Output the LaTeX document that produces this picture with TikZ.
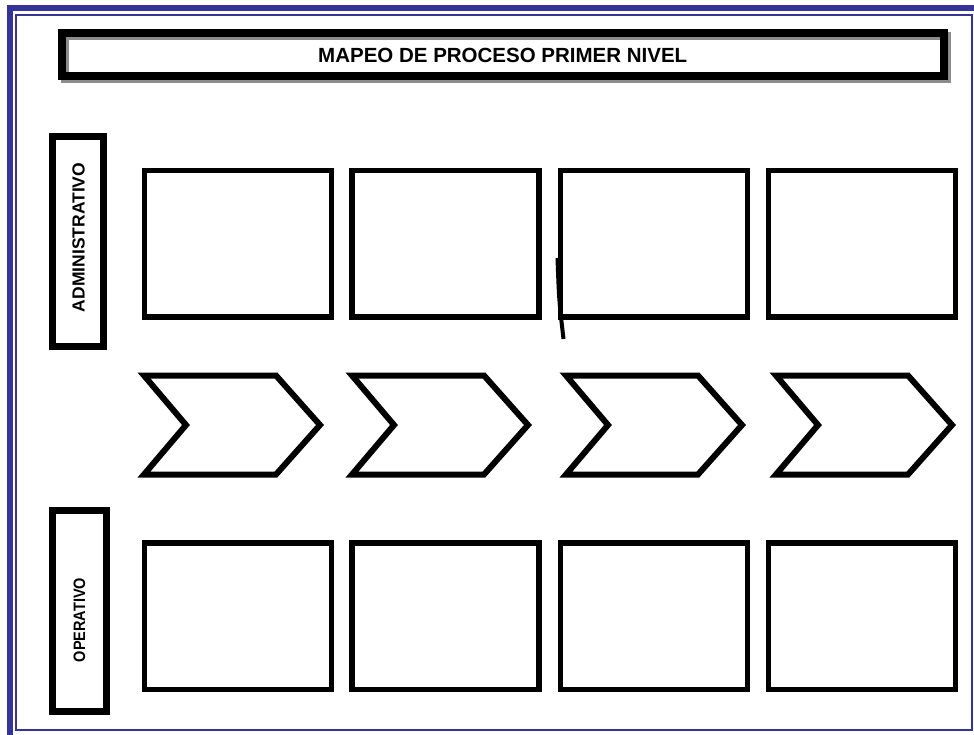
\documentclass[tikz,border=0pt]{standalone}
\usepackage{fontspec}
\setmainfont{Liberation Sans}
\usetikzlibrary{positioning}
\definecolor{marcoazul}{RGB}{51,51,153}
\definecolor{sombra}{RGB}{140,140,140}

\tikzset{
  procbox/.style={draw,line width=5.5pt,minimum width=187pt,minimum height=146.5pt,inner sep=0pt,outer sep=0pt},
  nivelbox/.style={draw,line width=7pt,inner sep=0pt,outer sep=0pt,rotate=90,font=\bfseries},
  chevron/.style={draw,line width=6pt,miter limit=20},
}

\begin{document}
\begin{tikzpicture}[x=1pt,y=-1pt]
    \useasboundingbox (0,0) rectangle (974,735);
    % marco doble
    \draw[marcoazul,line width=6pt] (10,8) rectangle (990,752);
    \draw[marcoazul,line width=2pt] (16,15) rectangle (972,730);
    % titulo con sombra
    \draw[sombra,line width=8pt] (64.5,36.5) rectangle (946.5,79.5);
    \node[draw,line width=8pt,minimum width=882pt,minimum height=43pt,inner sep=0pt] (titulo) at (502.75,55)
      {\bfseries\fontsize{20.5}{24}\selectfont MAPEO DE PROCESO PRIMER NIVEL};
    % niveles
    \node[nivelbox,minimum width=209pt,minimum height=50.5pt] (admin) at (77.75,241.5) {};
    \node[rotate=90,font=\bfseries\fontsize{17.5}{20}\selectfont] (admintxt) at (78.5,237.5) {ADMINISTRATIVO};
    \node[nivelbox,minimum width=201.5pt,minimum height=53.5pt] (oper) at (79.25,610.75) {};
    \node[rotate=90,font=\bfseries\fontsize{16.5}{20}\selectfont] (opertxt) at (79.5,620) {\scalebox{0.88}[1]{OPERATIVO}};
    % cajas de proceso
    \foreach \i/\x in {1/238.1,2/445.5,3/653.75,4/861.75}{
      \node[procbox] (adm\i) at (\x,243.75) {};
      \node[procbox] (ope\i) at (\x,616) {};
    }
    % flechas
    \foreach \x in {144,352,566,776}{
      \draw[chevron] (\x,375.5) -- ++(132,0) -- ++(44,49.5) -- ++(-44,49.5) -- ++(-132,0) -- ++(42,-49.5) -- cycle;
    }
    % trazo suelto
    \draw[line width=4pt] (557.5,258) .. controls (559,300) .. (563.5,339);
\end{tikzpicture}
\end{document}
